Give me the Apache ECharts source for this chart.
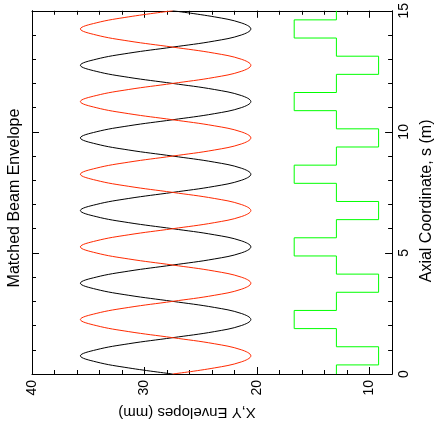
<!DOCTYPE html>
<html><head><meta charset="utf-8">
<script src="https://cdn.jsdelivr.net/npm/echarts@6/dist/echarts.min.js"></script>
<style>html,body{margin:0;padding:0;background:#fff}#c{width:443px;height:430px}</style>
</head><body><div id="c"></div>
<script>
// axial coordinate s (m)
const sPositions = [0,0.25,0.5,0.75,1,1.25,1.5,1.75,2,2.25,2.5,2.75,3,3.25,3.5,3.75,4,4.25,4.5,4.75,5,5.25,5.5,5.75,6,6.25,6.5,6.75,7,7.25,7.5,7.75,8,8.25,8.5,8.75,9,9.25,9.5,9.75,10,10.25,10.5,10.75,11,11.25,11.5,11.75,12,12.25,12.5,12.75,13,13.25,13.5,13.75,14,14.25,14.5,14.75,15];
// X envelope (mm), black
const xEnvelope = [27.5,31.4,34.3,35.7,34.3,31.4,27.5,23.8,21.4,20.55,21.4,23.8,
27.5,31.4,34.3,35.7,34.3,31.4,27.5,23.8,21.4,20.55,21.4,23.8,
27.5,31.4,34.3,35.7,34.3,31.4,27.5,23.8,21.4,20.55,21.4,23.8,
27.5,31.4,34.3,35.7,34.3,31.4,27.5,23.8,21.4,20.55,21.4,23.8,
27.5,31.4,34.3,35.7,34.3,31.4,27.5,23.8,21.4,20.55,21.4,23.8,27.5];
// Y envelope (mm), red
const yEnvelope = [27.5,23.8,21.4,20.55,21.4,23.8,27.5,31.4,34.3,35.7,34.3,31.4,
27.5,23.8,21.4,20.55,21.4,23.8,27.5,31.4,34.3,35.7,34.3,31.4,
27.5,23.8,21.4,20.55,21.4,23.8,27.5,31.4,34.3,35.7,34.3,31.4,
27.5,23.8,21.4,20.55,21.4,23.8,27.5,31.4,34.3,35.7,34.3,31.4,
27.5,23.8,21.4,20.55,21.4,23.8,27.5,31.4,34.3,35.7,34.3,31.4,27.5];
// quadrupole lattice: segment edges (m) and level of each segment
const latticeEdges = [0,0.375,1.125,1.875,2.625,3.375,4.125,4.875,5.625,6.375,7.125,7.875,8.625,9.375,10.125,10.875,11.625,12.375,13.125,13.875,14.625,15];
const latticeLevels = [12.95,9.2,12.95,16.7,12.95,9.2,12.95,16.7,12.95,9.2,12.95,16.7,12.95,9.2,12.95,16.7,12.95,9.2,12.95,16.7,12.95];
const envTicks = [10,20,30,40];
const sTicks = [0,5,10,15];

const FONT = 'Liberation Sans, Arial, sans-serif';
const xData = sPositions.map((s,i)=>[xEnvelope[i], s]);
const yData = sPositions.map((s,i)=>[yEnvelope[i], s]);
const latData = [];
latticeLevels.forEach((v,i)=>{ latData.push([v, latticeEdges[i]]); latData.push([v, latticeEdges[i+1]]); });

const chart = echarts.init(document.getElementById('c'), null, {renderer:'canvas'});
const line = {show:true, onZero:false, lineStyle:{color:'#000', width:1}};
const noLine = {show:false, onZero:false};
const tick = (len, custom)=>{ const t={inside:true, length:len, lineStyle:{color:'#000'}}; if(custom) t.customValues=custom; return t; };
const xBase = {type:'value', min:8, max:40, interval:2, inverse:true, splitLine:{show:false}};
const yBase = {type:'value', min:0, max:15, interval:1, splitLine:{show:false}};
chart.setOption({
  animation:false,
  backgroundColor:'#fff',
  grid:{left:32, right:42, top:5, bottom:56, containLabel:false},
  graphic:[{type:'text', x:15, y:198, rotation:Math.PI/2,
    style:{text:'Matched Beam Envelope', font:'16px '+FONT, fill:'#000', textAlign:'center', textVerticalAlign:'middle'}}],
  xAxis:[
    Object.assign({}, xBase, {position:'bottom', axisLine:line, axisTick:tick(4),
     axisLabel:{rotate:90, margin:6, fontSize:14, fontFamily:FONT, color:'#000',
       formatter:v=> envTicks.includes(v) ? String(v) : ''},
     name:'X,Y Envelopes (mm)', nameLocation:'middle', nameGap:31, nameRotate:180,
     nameTextStyle:{fontSize:15, fontFamily:FONT, color:'#000', padding:[0,0,0,50]}}),
    Object.assign({}, xBase, {position:'bottom', axisLine:noLine, axisTick:tick(7, envTicks), axisLabel:{show:false}}),
    Object.assign({}, xBase, {position:'top', axisLine:line, axisTick:tick(4), axisLabel:{show:false}}),
    Object.assign({}, xBase, {position:'top', axisLine:noLine, axisTick:tick(7, envTicks), axisLabel:{show:false}})
  ],
  yAxis:[
    Object.assign({}, yBase, {position:'right', axisLine:line, axisTick:tick(4),
     axisLabel:{rotate:90, margin:5, fontSize:14, fontFamily:FONT, color:'#000',
       formatter:v=> sTicks.includes(v) ? String(v) : ''},
     name:'Axial Coordinate, s (m)', nameLocation:'middle', nameGap:26, nameRotate:90,
     nameTextStyle:{fontSize:16, fontFamily:FONT, color:'#000', padding:[0,17,0,0]}}),
    Object.assign({}, yBase, {position:'right', axisLine:noLine, axisTick:tick(7, sTicks), axisLabel:{show:false}}),
    Object.assign({}, yBase, {position:'left', axisLine:line, axisTick:tick(4), axisLabel:{show:false}}),
    Object.assign({}, yBase, {position:'left', axisLine:noLine, axisTick:tick(7, sTicks), axisLabel:{show:false}})
  ],
  series:[
    {type:'line', data:xData, xAxisIndex:0, yAxisIndex:0, showSymbol:false, smooth:0.4,
     lineStyle:{color:'#000', width:1}, z:3},
    {type:'line', data:yData, xAxisIndex:0, yAxisIndex:0, showSymbol:false, smooth:0.4,
     lineStyle:{color:'#ff2a00', width:1}, z:3},
    {type:'line', data:latData, xAxisIndex:0, yAxisIndex:0, showSymbol:false,
     lineStyle:{color:'#00ff00', width:1}, z:2}
  ]
});
</script></body></html>
